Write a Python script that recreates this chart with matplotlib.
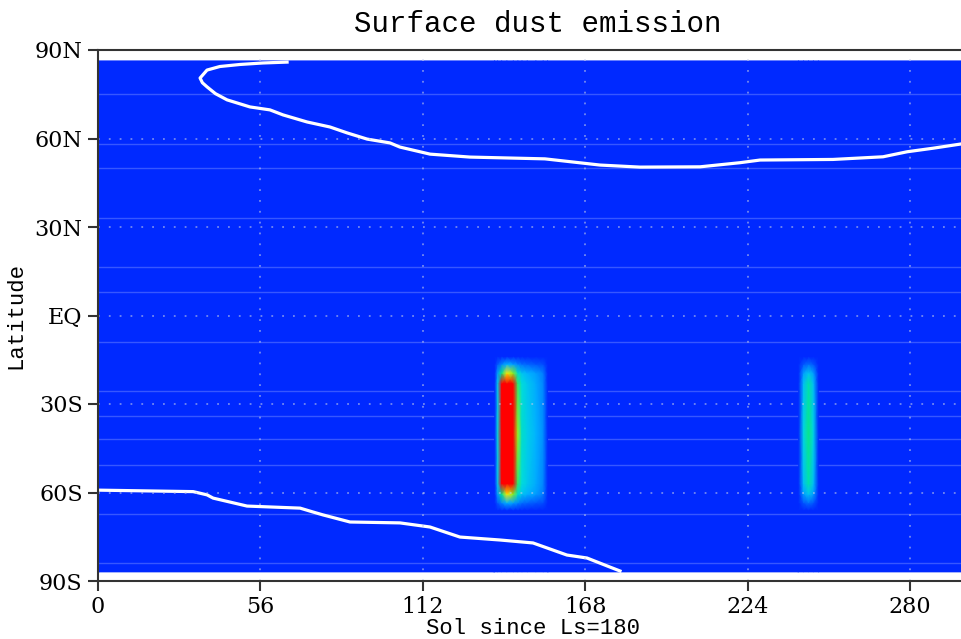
import matplotlib
matplotlib.use("Agg")
import matplotlib.pyplot as plt
import numpy as np
from matplotlib.colors import LinearSegmentedColormap

# grid of the emission field (sol since Ls=180, latitude)
sols = [0, 136.8, 137.8, 139.2, 141, 143.2, 144.8, 146.2, 148, 151, 153.5,
        155, 241.6, 243.3, 245, 246.7, 248.4, 300]
lats = [-86.9, -66, -63.5, -60.5, -57, -40, -23, -19.5, -16.5, -14, 86.3]

# emission, one list per sol column (south -> north), scaled 0..1 (core > 1)
emis_cols = [
    [0, 0, 0, 0, 0, 0, 0, 0, 0, 0, 0],
    [0, 0, 0, 0, 0, 0, 0, 0, 0, 0, 0],
    [0, 0, 0.10, 0.25, 0.35, 0.40, 0.35, 0.25, 0.10, 0, 0],
    [0, 0, 0.20, 0.55, 1.10, 1.80, 1.10, 0.55, 0.20, 0, 0],
    [0, 0, 0.30, 0.80, 2.60, 3.00, 2.60, 0.80, 0.30, 0, 0],
    [0, 0, 0.25, 0.70, 1.60, 2.80, 1.60, 0.70, 0.25, 0, 0],
    [0, 0, 0.20, 0.45, 0.60, 0.72, 0.60, 0.45, 0.20, 0, 0],
    [0, 0, 0.15, 0.35, 0.42, 0.45, 0.42, 0.35, 0.15, 0, 0],
    [0, 0, 0.13, 0.30, 0.36, 0.38, 0.36, 0.30, 0.13, 0, 0],
    [0, 0, 0.10, 0.25, 0.28, 0.30, 0.28, 0.25, 0.10, 0, 0],
    [0, 0, 0.08, 0.18, 0.20, 0.22, 0.20, 0.18, 0.08, 0, 0],
    [0, 0, 0, 0, 0, 0, 0, 0, 0, 0, 0],
    [0, 0, 0, 0, 0, 0, 0, 0, 0, 0, 0],
    [0, 0, 0.10, 0.25, 0.33, 0.40, 0.33, 0.25, 0.10, 0, 0],
    [0, 0, 0.15, 0.35, 0.50, 0.56, 0.50, 0.35, 0.15, 0, 0],
    [0, 0, 0.10, 0.25, 0.33, 0.40, 0.33, 0.25, 0.10, 0, 0],
    [0, 0, 0, 0, 0, 0, 0, 0, 0, 0, 0],
    [0, 0, 0, 0, 0, 0, 0, 0, 0, 0, 0],
]

# polar cap edge contours
north_sol = [65.2, 56.9, 49.0, 42.0, 37.6, 35.2, 36.0, 37.6, 40.5, 44.5, 52.4,
             59.3, 63.8, 72.1, 80.0, 85.9, 92.8, 100.7, 104.1, 114.5, 128.3,
             154.1, 173.1, 186.9, 207.6, 221.4, 228.3, 253.4, 270.7, 279.0,
             287.9, 300.0]
north_lat = [85.9, 85.6, 85.1, 84.4, 83.2, 80.5, 78.9, 77.5, 75.2, 73.1, 70.7,
             69.7, 68.0, 65.6, 63.9, 61.9, 59.8, 58.5, 57.1, 54.7, 53.7,
             53.1, 51.0, 50.3, 50.4, 51.8, 52.7, 52.9, 53.8, 55.5,
             56.7, 58.5]
south_sol = [0, 32.8, 37.6, 39.7, 51.4, 69.7, 74.1, 77.6, 86.9, 104.1, 114.5,
             124.8, 138.6, 150.0, 161.7, 168.6, 176.6, 180.0]
south_lat = [-59.2, -59.7, -60.8, -61.9, -64.6, -65.3, -66.6, -67.6, -70.0,
             -70.3, -71.7, -75.1, -76.1, -77.1, -81.2, -82.2, -85.3, -86.6]

# faint latitude band edges seen in the field
band_lats = [75.1, 58.1, 50.0, 33.1, 16.4, 8.0, -9.0, -25.6, -34.1, -41.9,
             -50.7, -67.3, -83.9]

xticks = [0, 56, 112, 168, 224, 280]
yticks = [-90, -60, -30, 0, 30, 60, 90]
ylabels = ["90S", "60S", "30S", "EQ", "30N", "60N", "90N"]

cmap = LinearSegmentedColormap.from_list("gr", [
    (0.00, "#0029ff"), (0.15, "#006eff"), (0.30, "#00b4ff"),
    (0.42, "#00dcdc"), (0.55, "#00e68c"), (0.70, "#80f028"),
    (0.80, "#ffeb00"), (0.90, "#ff8200"), (1.00, "#ff0000")])

fig = plt.figure(figsize=(9.62, 6.39), dpi=100)
ax = fig.add_axes([98 / 962, 58 / 639, 870 / 962, 531 / 639])
ax.set_facecolor("white")

X, Y = np.meshgrid(sols, lats)
Z = np.array(emis_cols).T
ax.pcolormesh(X, Y, Z, shading="gouraud", cmap=cmap, vmin=0, vmax=1,
              zorder=1)
ax.hlines(band_lats, 0, 300, colors="white", alpha=0.22, lw=1, zorder=2)
# redraw the emission spots above the band lines
for c0, c1 in [(1, 12), (12, 17)]:
    ax.pcolormesh(X[1:10, c0:c1], Y[1:10, c0:c1], Z[1:10, c0:c1],
                  shading="gouraud", cmap=cmap, vmin=0, vmax=1, zorder=3)

ax.plot(north_sol, north_lat, color="white", lw=2.3, zorder=4,
        solid_joinstyle="round")
ax.plot(south_sol, south_lat, color="white", lw=2.3, zorder=4,
        solid_joinstyle="round")

# dotted grid at the inner ticks
for xt in xticks[1:]:
    ax.axvline(xt, color="#c0c8e8", alpha=0.6, ls=(0, (1, 5)), lw=1.3,
               zorder=5)
for yt in yticks[1:-1]:
    ax.axhline(yt, color="#c0c8e8", alpha=0.6, ls=(0, (1, 5)), lw=1.3,
               zorder=5)

ax.set_xlim(0, 300)
ax.set_ylim(-90, 90)
ax.set_xticks(xticks)
ax.set_yticks(yticks)
ax.set_yticklabels(ylabels)

for s in ["left", "bottom", "top"]:
    ax.spines[s].set_color("#333333")
    ax.spines[s].set_linewidth(1.5)
    ax.spines[s].set_zorder(6)
ax.spines["right"].set_visible(False)
ax.tick_params(direction="out", length=7, width=1.5, color="#333333",
               pad=4)
for lab in ax.get_xticklabels() + ax.get_yticklabels():
    lab.set_fontfamily("DejaVu Serif")
    lab.set_fontsize(16)

ax.set_title("Surface dust emission", family="Liberation Mono", fontsize=21,
             pad=13, x=0.505)
ax.set_xlabel("Sol since Ls=180", family="Liberation Mono", fontsize=16,
              labelpad=0)
ax.set_ylabel("Latitude", family="Liberation Mono", fontsize=16,
              labelpad=6)

fig.savefig("out.png", dpi=100)
